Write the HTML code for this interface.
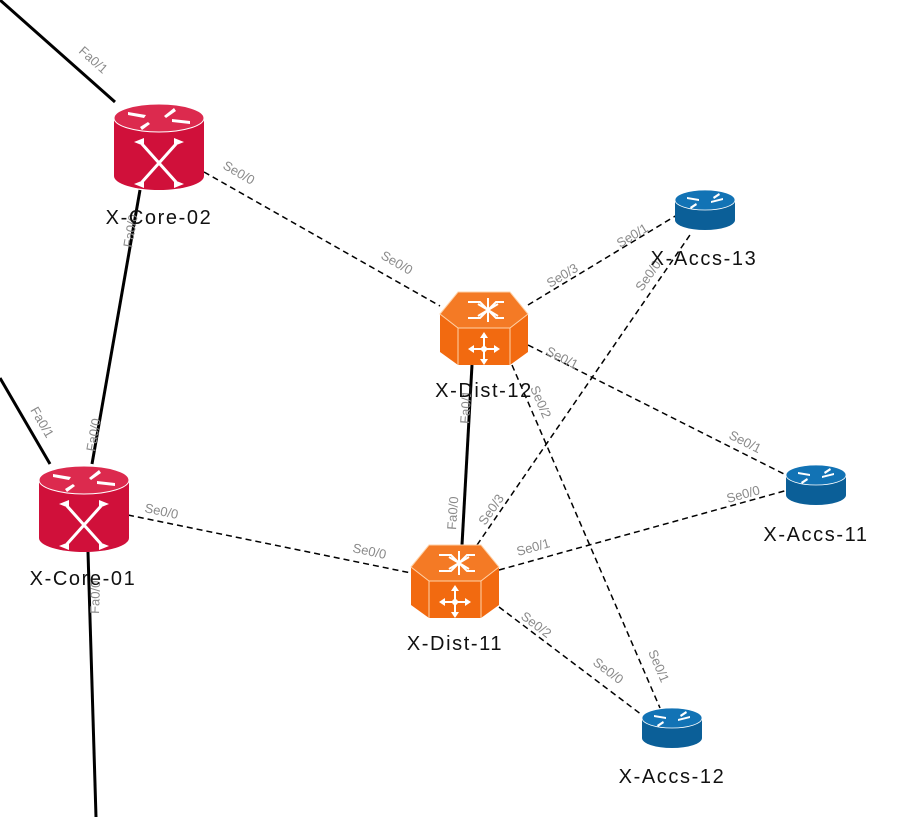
<!DOCTYPE html>
<html><head><meta charset="utf-8"><style>
html,body{margin:0;padding:0;background:#fff;}
svg{display:block;}
.l{font-family:"Liberation Sans",sans-serif;font-size:13px;fill:#8a8a8a;}
.n{font-family:"Liberation Sans",sans-serif;font-size:20px;letter-spacing:1.6px;fill:#111;text-anchor:middle;}
</style></head><body>
<svg width="907" height="817" viewBox="0 0 907 817" xmlns="http://www.w3.org/2000/svg">
<defs>
<g id="rtr">
 <path d="M0,16 L0,74 A45,14 0 0 0 90,74 L90,16 Z" fill="#d0103a"/>
 <ellipse cx="45" cy="16" rx="45" ry="14" fill="#dc2a4e" stroke="#fff" stroke-width="1"/>
 <g stroke="#fff" stroke-width="3" fill="none">
  <path d="M28,42 L62,80 M62,42 L28,80"/>
 </g>
 <g fill="#fff">
  <path d="M20,40 l10,-4 v8z M70,40 l-10,-4 v8z M20,82 l10,-4 v8z M70,82 l-10,-4 v8z"/>
  <path d="M14,10 l18,3 l-2,3 l-16,-3z M50,14 l10,-8 l2,3 l-10,7z M58,17 l18,2 v3 l-18,-2z M36,22 l-8,6 l-2,-3 l8,-5z"/>
 </g>
</g>
<g id="acc">
 <path d="M0,10 L0,30 A30,10 0 0 0 60,30 L60,10 Z" fill="#0b5f98"/>
 <ellipse cx="30" cy="10" rx="30" ry="10" fill="#1273b5" stroke="#fff" stroke-width="0.8"/>
 <g fill="#fff"><path d="M12,7 l12,2 v2 l-12,-2z M36,11 l12,-3 v2 l-12,3z M22,15 l-6,4 l-1,-2 l6,-4z M38,7 l6,-4 l1,2 l-6,4z"/></g>
</g>
<g id="sw">
 <path d="M18,0 L70,0 L88,22 L88,60 L70,73 L18,73 L0,60 L0,22 Z" fill="#f26a10"/>
 <path d="M0,22 L18,0 L70,0 L88,22 L70,36 L18,36 Z" fill="#f47a25" stroke="#ffd2a8" stroke-width="1"/>
 <path d="M18,36 L18,73 M70,36 L70,73" stroke="#ffd2a8" stroke-width="1"/>
 <g stroke="#fff" stroke-width="2" fill="none">
  <path d="M28,10 H40 L48,18 L56,10 H64 M28,26 H40 L48,18 L56,26 H64 M48,6 V30 M38,12 L58,24 M58,12 L38,24"/>
  <path d="M44,44 V70 M31,57 H57"/>
 </g>
 <g fill="#fff"><path d="M44,40 l-4,6 h8z M44,73 l-4,-6 h8z M28,57 l6,-4 v8z M60,57 l-6,-4 v8z"/><circle cx="44" cy="57" r="3"/></g>
</g>
</defs>

<g stroke="#000" stroke-width="3" fill="none">
 <line x1="0" y1="0" x2="115" y2="102"/>
 <line x1="140" y1="190" x2="92" y2="464"/>
 <line x1="0" y1="378" x2="50" y2="464"/>
 <line x1="88" y1="552" x2="96" y2="817"/>
 <line x1="472" y1="365" x2="462" y2="545"/>
</g>
<g stroke="#000" stroke-width="1.5" stroke-dasharray="6,4" fill="none">
 <line x1="204" y1="172" x2="440" y2="306"/>
 <line x1="528" y1="305" x2="677" y2="215"/>
 <line x1="528" y1="345" x2="788" y2="476"/>
 <line x1="512" y1="365" x2="660" y2="708"/>
 <line x1="128" y1="515" x2="411" y2="573"/>
 <line x1="477" y1="545" x2="692" y2="232"/>
 <line x1="499" y1="570" x2="788" y2="490"/>
 <line x1="499" y1="607" x2="642" y2="715"/>
</g>

<use href="#rtr" x="114" y="102"/>
<use href="#rtr" x="39" y="464"/>
<use href="#sw" x="440" y="292"/>
<use href="#sw" x="411" y="545"/>
<use href="#acc" x="675" y="190"/>
<use href="#acc" x="786" y="465"/>
<use href="#acc" x="642" y="708"/>

<g class="l">
 <text transform="translate(78,52) rotate(42)">Fa0/1</text>
 <text transform="translate(132,248) rotate(-80)">Fa0/0</text>
 <text transform="translate(95,452) rotate(-80)">Fa0/0</text>
 <text transform="translate(30,410) rotate(60)">Fa0/1</text>
 <text transform="translate(99,614) rotate(-88)">Fa0/0</text>
 <text transform="translate(222,168) rotate(30)">Se0/0</text>
 <text transform="translate(380,258) rotate(30)">Se0/0</text>
 <text transform="translate(550,288) rotate(-31)">Se0/3</text>
 <text transform="translate(620,248) rotate(-31)">Se0/1</text>
 <text transform="translate(545,354) rotate(27)">Se0/1</text>
 <text transform="translate(728,438) rotate(27)">Se0/1</text>
 <text transform="translate(530,388) rotate(67)">Se0/2</text>
 <text transform="translate(648,652) rotate(67)">Se0/1</text>
 <text transform="translate(469,424) rotate(-86)">Fa0/1</text>
 <text transform="translate(456,530) rotate(-86)">Fa0/0</text>
 <text transform="translate(144,512) rotate(12)">Se0/0</text>
 <text transform="translate(352,552) rotate(12)">Se0/0</text>
 <text transform="translate(485,526) rotate(-55)">Se0/3</text>
 <text transform="translate(642,292) rotate(-55)">Se0/0</text>
 <text transform="translate(518,556) rotate(-15.5)">Se0/1</text>
 <text transform="translate(728,503) rotate(-15.5)">Se0/0</text>
 <text transform="translate(520,618) rotate(37)">Se0/2</text>
 <text transform="translate(592,664) rotate(37)">Se0/0</text>
</g>

<g class="n">
 <text x="159" y="224">X-Core-02</text>
 <text x="83" y="585">X-Core-01</text>
 <text x="484" y="397">X-Dist-12</text>
 <text x="455" y="650">X-Dist-11</text>
 <text x="704" y="265">X-Accs-13</text>
 <text x="816" y="541">X-Accs-11</text>
 <text x="672" y="783">X-Accs-12</text>
</g>
</svg>
</body></html>
